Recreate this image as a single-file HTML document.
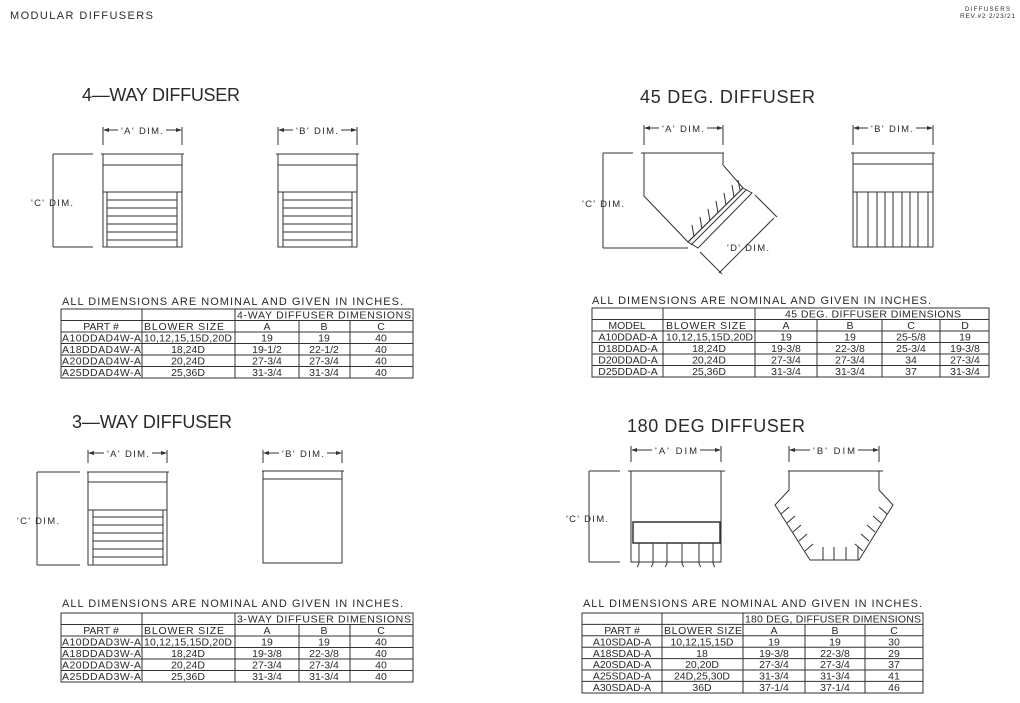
<!DOCTYPE html>
<html><head><meta charset="utf-8"><style>
html,body{margin:0;padding:0;background:#fff;}
svg{display:block;}
text{font-family:"Liberation Sans",sans-serif;fill:#2a2a2a;}
.h{font-size:18px;}
.n{font-size:11px;}
.t{font-size:10.5px;}
.d{font-size:9.5px;}
</style></head><body>
<svg width="1020" height="703" viewBox="0 0 1020 703" xmlns="http://www.w3.org/2000/svg">
<defs>
<marker id="ar" markerWidth="6" markerHeight="4" refX="5" refY="2" orient="auto"><path d="M0,0 L6,2 L0,4 z" fill="#333"/></marker>
</defs>
<g stroke="#333" stroke-width="1" fill="none">

<!-- ===== 4-WAY ===== -->
<line x1="103" y1="127" x2="103" y2="145"/><line x1="182" y1="127" x2="182" y2="145"/>
<line x1="118" y1="130" x2="104" y2="130" marker-end="url(#ar)"/><line x1="166" y1="130" x2="181" y2="130" marker-end="url(#ar)"/>
<line x1="101" y1="154" x2="184" y2="154"/>
<rect x="103" y="154" width="79" height="93"/>
<line x1="103" y1="165" x2="182" y2="165"/><line x1="103" y1="192" x2="182" y2="192"/>
<line x1="107" y1="192" x2="107" y2="247"/><line x1="177" y1="192" x2="177" y2="247"/>
<path d="M107 200H177M107 208H177M107 216H177M107 224H177M107 232H177M107 240H177"/>
<line x1="53" y1="154" x2="53" y2="247"/><line x1="53" y1="154" x2="93" y2="154"/><line x1="53" y1="247" x2="93" y2="247"/>
<line x1="278" y1="127" x2="278" y2="145"/><line x1="357" y1="127" x2="357" y2="145"/>
<line x1="293" y1="130" x2="279" y2="130" marker-end="url(#ar)"/><line x1="341" y1="130" x2="356" y2="130" marker-end="url(#ar)"/>
<line x1="276" y1="154" x2="359" y2="154"/>
<rect x="278" y="154" width="79" height="93"/>
<line x1="278" y1="165" x2="357" y2="165"/><line x1="278" y1="192" x2="357" y2="192"/>
<line x1="283" y1="192" x2="283" y2="247"/><line x1="352" y1="192" x2="352" y2="247"/>
<path d="M283 200H352M283 208H352M283 216H352M283 224H352M283 232H352M283 240H352"/>

<!-- ===== 45 DEG ===== -->
<line x1="644" y1="125" x2="644" y2="145"/><line x1="723" y1="125" x2="723" y2="145"/>
<line x1="659" y1="128" x2="645" y2="128" marker-end="url(#ar)"/><line x1="707" y1="128" x2="722" y2="128" marker-end="url(#ar)"/>
<line x1="641" y1="153" x2="724" y2="153"/>
<polyline points="644,153 644,196 688,242"/>
<polyline points="723,153 723,165 743,188"/>
<line x1="743" y1="188" x2="688" y2="242"/>
<line x1="746" y1="190" x2="691" y2="245"/>
<polygon points="743,188 752,193 698,248 688,242"/>
<path d="M694,237 l-2,-12 M702,229 l-2,-12 M710,221 l-2,-12 M718,213 l-2,-12 M726,205 l-2,-12 M734,197 l-2,-12 M740,190 l-2,-10"/>
<line x1="603" y1="153" x2="603" y2="248"/><line x1="603" y1="153" x2="633" y2="153"/><line x1="603" y1="248" x2="688" y2="248"/>
<line x1="755" y1="195" x2="777" y2="217"/><line x1="700" y1="252" x2="722" y2="274"/>
<line x1="774" y1="218" x2="719" y2="273"/>
<line x1="853" y1="125" x2="853" y2="145"/><line x1="933" y1="125" x2="933" y2="145"/>
<line x1="868" y1="128" x2="854" y2="128" marker-end="url(#ar)"/><line x1="916" y1="128" x2="932" y2="128" marker-end="url(#ar)"/>
<line x1="851" y1="153" x2="935" y2="153"/>
<rect x="853" y="153" width="80" height="94"/>
<line x1="853" y1="164" x2="933" y2="164"/><line x1="853" y1="192" x2="933" y2="192"/>
<path d="M857 192V247M868 192V247M877 192V247M885 192V247M893 192V247M902 192V247M910 192V247M918 192V247M928 192V247"/>

<!-- ===== 3-WAY ===== -->
<line x1="88" y1="450" x2="88" y2="463"/><line x1="167" y1="450" x2="167" y2="463"/>
<line x1="104" y1="453" x2="89" y2="453" marker-end="url(#ar)"/><line x1="152" y1="453" x2="166" y2="453" marker-end="url(#ar)"/>
<line x1="87" y1="472" x2="169" y2="472"/>
<rect x="88" y="472" width="79" height="93"/>
<line x1="88" y1="482" x2="167" y2="482"/><line x1="88" y1="510" x2="167" y2="510"/>
<line x1="93" y1="510" x2="93" y2="565"/><line x1="163" y1="510" x2="163" y2="565"/>
<path d="M93 517H163M93 525H163M93 533H163M93 541H163M93 549H163M93 557H163"/>
<line x1="37" y1="472" x2="37" y2="565"/><line x1="37" y1="472" x2="80" y2="472"/><line x1="37" y1="565" x2="80" y2="565"/>
<line x1="263" y1="450" x2="263" y2="463"/><line x1="342" y1="450" x2="342" y2="463"/>
<line x1="279" y1="453" x2="264" y2="453" marker-end="url(#ar)"/><line x1="327" y1="453" x2="341" y2="453" marker-end="url(#ar)"/>
<line x1="262" y1="471" x2="344" y2="471"/>
<rect x="263" y="471" width="79" height="92"/>
<line x1="263" y1="479" x2="342" y2="479"/>

<!-- ===== 180 DEG ===== -->
<line x1="631" y1="446" x2="631" y2="462"/><line x1="721" y1="446" x2="721" y2="462"/>
<line x1="652" y1="450" x2="632" y2="450" marker-end="url(#ar)"/><line x1="700" y1="450" x2="720" y2="450" marker-end="url(#ar)"/>
<line x1="628" y1="471" x2="725" y2="471"/>
<rect x="631" y="471" width="90" height="91"/>
<rect x="633" y="522" width="87" height="21" stroke-width="1.5"/>
<path d="M639,543 v19 q0,3 -2,5 M653,543 v19 q0,3 -2,5 M667,543 v19 q0,3 -2,5 M682,543 v19 q0,3 2,5 M699,543 v19 q0,3 2,5 M713,543 v19 q0,3 2,5"/>
<line x1="589" y1="471" x2="589" y2="562"/><line x1="589" y1="471" x2="620" y2="471"/><line x1="589" y1="562" x2="620" y2="562"/>
<line x1="789" y1="446" x2="789" y2="462"/><line x1="879" y1="446" x2="879" y2="462"/>
<line x1="810" y1="450" x2="790" y2="450" marker-end="url(#ar)"/><line x1="858" y1="450" x2="878" y2="450" marker-end="url(#ar)"/>
<line x1="788" y1="471" x2="883" y2="471"/>
<polyline points="789,471 789,490 775,505 810,560 859,560 893,505 879,490 879,471"/>
<path d="M823,560 v-13 M834,560 v-13 M846,560 v-13 M858,560 v-13"/>
<path d="M781,514 l8,-7 M787,523 l8,-7 M793,532 l8,-7 M799,541 l8,-7 M805,551 l8,-7"/>
<path d="M887,514 l-8,-7 M881,523 l-8,-7 M875,532 l-8,-7 M869,541 l-8,-7 M863,551 l-8,-7"/>

<!-- ===== TABLES ===== -->
<rect x="61" y="309" width="352" height="69"/>
<path d="M61 320.5H413M61 332H413M61 343.5H413M61 355H413M61 366.5H413"/>
<path d="M142 309V378M235 309V378M299 320.5V378M350 320.5V378"/>
<rect x="61" y="613" width="352" height="69"/>
<path d="M61 624.5H413M61 636H413M61 647.5H413M61 659H413M61 670.5H413"/>
<path d="M142 613V682M235 613V682M299 624.5V682M350 624.5V682"/>
<rect x="592" y="308" width="397" height="69"/>
<path d="M592 319.5H989M592 331H989M592 342.5H989M592 354H989M592 365.5H989"/>
<path d="M663 308V377M755 308V377M817 319.5V377M882 319.5V377M940 319.5V377"/>
<rect x="582" y="613" width="341" height="80"/>
<path d="M582 624.4H923M582 635.8H923M582 647.2H923M582 658.6H923M582 670H923M582 681.4H923"/>
<path d="M662 613V693M743 613V693M805 624.4V693M865 624.4V693"/>
</g>

<!-- ===== TEXT ===== -->
<text x="10" y="19" font-size="11" textLength="143">MODULAR DIFFUSERS</text>
<text x="965" y="11" font-size="6" textLength="45">DIFFUSERS</text>
<text x="960" y="18" font-size="6.5" textLength="55">REV.#2  2/23/21</text>

<text class="h" x="82" y="101" textLength="158">4—WAY DIFFUSER</text>
<text class="h" x="640" y="103" textLength="175">45 DEG. DIFFUSER</text>
<text class="h" x="72" y="428" textLength="160">3—WAY DIFFUSER</text>
<text class="h" x="627" y="432" textLength="178">180 DEG DIFFUSER</text>

<text class="d" x="121" y="134" textLength="42">'A'  DIM.</text>
<text class="d" x="296" y="134" textLength="42">'B'  DIM.</text>
<text class="d" x="31" y="206" textLength="42">'C'  DIM.</text>
<text class="d" x="662" y="132" textLength="42">'A'  DIM.</text>
<text class="d" x="871" y="132" textLength="42">'B'  DIM.</text>
<text class="d" x="582" y="207" textLength="42">'C'  DIM.</text>
<text class="d" x="727" y="251" textLength="42">'D'  DIM.</text>
<text class="d" x="107" y="457" textLength="42">'A'  DIM.</text>
<text class="d" x="282" y="457" textLength="42">'B'  DIM.</text>
<text class="d" x="17" y="524" textLength="42">'C'  DIM.</text>
<text class="d" x="655" y="454" textLength="42">'A'  DIM</text>
<text class="d" x="813" y="454" textLength="42">'B'  DIM</text>
<text class="d" x="566" y="522" textLength="42">'C'  DIM.</text>

<text class="n" x="62" y="305" textLength="341">ALL DIMENSIONS ARE NOMINAL AND GIVEN IN INCHES.</text>
<text class="n" x="592" y="304" textLength="339">ALL DIMENSIONS ARE NOMINAL AND GIVEN IN INCHES.</text>
<text class="n" x="62" y="607" textLength="341">ALL DIMENSIONS ARE NOMINAL AND GIVEN IN INCHES.</text>
<text class="n" x="583" y="607" textLength="339">ALL DIMENSIONS ARE NOMINAL AND GIVEN IN INCHES.</text>

<g class="t">
<text x="237" y="318.5" textLength="174">4-WAY DIFFUSER DIMENSIONS</text>
<text x="101" y="330" text-anchor="middle">PART #</text>
<text x="144" y="330" textLength="80">BLOWER SIZE</text>
<text x="267" y="330" text-anchor="middle">A</text><text x="324" y="330" text-anchor="middle">B</text><text x="381" y="330" text-anchor="middle">C</text>
<text x="62" y="341.5" textLength="79">A10DDAD4W-A</text><text x="144" y="341.5" textLength="88">10,12,15,15D,20D</text><text x="267" y="341.5" text-anchor="middle">19</text><text x="324" y="341.5" text-anchor="middle">19</text><text x="381" y="341.5" text-anchor="middle">40</text>
<text x="62" y="353" textLength="79">A18DDAD4W-A</text><text x="188" y="353" text-anchor="middle">18,24D</text><text x="267" y="353" text-anchor="middle">19-1/2</text><text x="324" y="353" text-anchor="middle">22-1/2</text><text x="381" y="353" text-anchor="middle">40</text>
<text x="62" y="364.5" textLength="79">A20DDAD4W-A</text><text x="188" y="364.5" text-anchor="middle">20,24D</text><text x="267" y="364.5" text-anchor="middle">27-3/4</text><text x="324" y="364.5" text-anchor="middle">27-3/4</text><text x="381" y="364.5" text-anchor="middle">40</text>
<text x="62" y="376" textLength="79">A25DDAD4W-A</text><text x="188" y="376" text-anchor="middle">25,36D</text><text x="267" y="376" text-anchor="middle">31-3/4</text><text x="324" y="376" text-anchor="middle">31-3/4</text><text x="381" y="376" text-anchor="middle">40</text>
</g>
<g class="t">
<text x="237" y="622.5" textLength="174">3-WAY DIFFUSER DIMENSIONS</text>
<text x="101" y="634" text-anchor="middle">PART #</text>
<text x="144" y="634" textLength="80">BLOWER SIZE</text>
<text x="267" y="634" text-anchor="middle">A</text><text x="324" y="634" text-anchor="middle">B</text><text x="381" y="634" text-anchor="middle">C</text>
<text x="62" y="645.5" textLength="79">A10DDAD3W-A</text><text x="144" y="645.5" textLength="88">10,12,15,15D,20D</text><text x="267" y="645.5" text-anchor="middle">19</text><text x="324" y="645.5" text-anchor="middle">19</text><text x="381" y="645.5" text-anchor="middle">40</text>
<text x="62" y="657" textLength="79">A18DDAD3W-A</text><text x="188" y="657" text-anchor="middle">18,24D</text><text x="267" y="657" text-anchor="middle">19-3/8</text><text x="324" y="657" text-anchor="middle">22-3/8</text><text x="381" y="657" text-anchor="middle">40</text>
<text x="62" y="668.5" textLength="79">A20DDAD3W-A</text><text x="188" y="668.5" text-anchor="middle">20,24D</text><text x="267" y="668.5" text-anchor="middle">27-3/4</text><text x="324" y="668.5" text-anchor="middle">27-3/4</text><text x="381" y="668.5" text-anchor="middle">40</text>
<text x="62" y="680" textLength="79">A25DDAD3W-A</text><text x="188" y="680" text-anchor="middle">25,36D</text><text x="267" y="680" text-anchor="middle">31-3/4</text><text x="324" y="680" text-anchor="middle">31-3/4</text><text x="381" y="680" text-anchor="middle">40</text>
</g>
<g class="t">
<text x="785" y="317.5" textLength="176">45 DEG. DIFFUSER DIMENSIONS</text>
<text x="627" y="329" text-anchor="middle">MODEL</text>
<text x="666" y="329" textLength="80">BLOWER SIZE</text>
<text x="786" y="329" text-anchor="middle">A</text><text x="850" y="329" text-anchor="middle">B</text><text x="911" y="329" text-anchor="middle">C</text><text x="965" y="329" text-anchor="middle">D</text>
<text x="628" y="340.5" text-anchor="middle">A10DDAD-A</text><text x="666" y="340.5" textLength="87">10,12,15,15D,20D</text><text x="786" y="340.5" text-anchor="middle">19</text><text x="850" y="340.5" text-anchor="middle">19</text><text x="911" y="340.5" text-anchor="middle">25-5/8</text><text x="965" y="340.5" text-anchor="middle">19</text>
<text x="628" y="352" text-anchor="middle">D18DDAD-A</text><text x="709" y="352" text-anchor="middle">18,24D</text><text x="786" y="352" text-anchor="middle">19-3/8</text><text x="850" y="352" text-anchor="middle">22-3/8</text><text x="911" y="352" text-anchor="middle">25-3/4</text><text x="965" y="352" text-anchor="middle">19-3/8</text>
<text x="628" y="363.5" text-anchor="middle">D20DDAD-A</text><text x="709" y="363.5" text-anchor="middle">20,24D</text><text x="786" y="363.5" text-anchor="middle">27-3/4</text><text x="850" y="363.5" text-anchor="middle">27-3/4</text><text x="911" y="363.5" text-anchor="middle">34</text><text x="965" y="363.5" text-anchor="middle">27-3/4</text>
<text x="628" y="375" text-anchor="middle">D25DDAD-A</text><text x="709" y="375" text-anchor="middle">25,36D</text><text x="786" y="375" text-anchor="middle">31-3/4</text><text x="850" y="375" text-anchor="middle">31-3/4</text><text x="911" y="375" text-anchor="middle">37</text><text x="965" y="375" text-anchor="middle">31-3/4</text>
</g>
<g class="t">
<text x="745" y="622.5" textLength="176">180 DEG, DIFFUSER DIMENSIONS</text>
<text x="622" y="634" text-anchor="middle">PART #</text>
<text x="664" y="634" textLength="78">BLOWER SIZE</text>
<text x="774" y="634" text-anchor="middle">A</text><text x="835" y="634" text-anchor="middle">B</text><text x="894" y="634" text-anchor="middle">C</text>
<text x="622" y="645.4" text-anchor="middle">A10SDAD-A</text><text x="702" y="645.4" text-anchor="middle">10,12,15,15D</text><text x="774" y="645.4" text-anchor="middle">19</text><text x="835" y="645.4" text-anchor="middle">19</text><text x="894" y="645.4" text-anchor="middle">30</text>
<text x="622" y="656.8" text-anchor="middle">A18SDAD-A</text><text x="702" y="656.8" text-anchor="middle">18</text><text x="774" y="656.8" text-anchor="middle">19-3/8</text><text x="835" y="656.8" text-anchor="middle">22-3/8</text><text x="894" y="656.8" text-anchor="middle">29</text>
<text x="622" y="668.2" text-anchor="middle">A20SDAD-A</text><text x="702" y="668.2" text-anchor="middle">20,20D</text><text x="774" y="668.2" text-anchor="middle">27-3/4</text><text x="835" y="668.2" text-anchor="middle">27-3/4</text><text x="894" y="668.2" text-anchor="middle">37</text>
<text x="622" y="679.6" text-anchor="middle">A25SDAD-A</text><text x="702" y="679.6" text-anchor="middle">24D,25,30D</text><text x="774" y="679.6" text-anchor="middle">31-3/4</text><text x="835" y="679.6" text-anchor="middle">31-3/4</text><text x="894" y="679.6" text-anchor="middle">41</text>
<text x="622" y="691" text-anchor="middle">A30SDAD-A</text><text x="702" y="691" text-anchor="middle">36D</text><text x="774" y="691" text-anchor="middle">37-1/4</text><text x="835" y="691" text-anchor="middle">37-1/4</text><text x="894" y="691" text-anchor="middle">46</text>
</g>
</svg>
</body></html>
